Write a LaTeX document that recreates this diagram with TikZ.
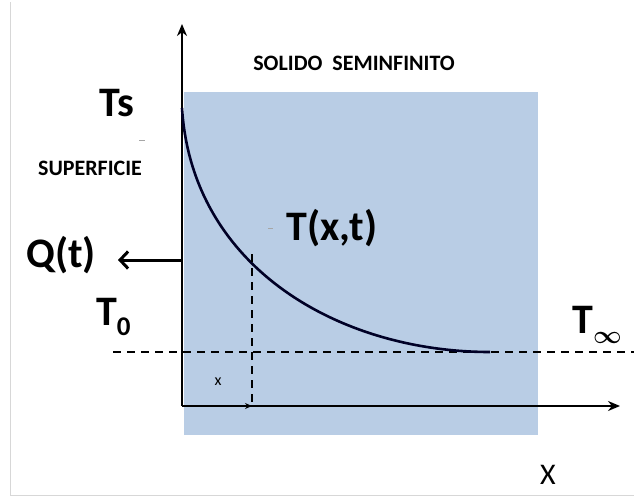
\documentclass[tikz,border=0pt]{standalone}
\usepackage{fontspec}
\setmainfont{Carlito}
\usepackage{xcolor}
\definecolor{solidBlue}{RGB}{185, 205, 229}
\definecolor{frameGray}{RGB}{215, 215, 215}
\usetikzlibrary{arrows.meta, positioning, calc}

\newcommand{\lowsub}[1]{\raisebox{-10pt}{\fontsize{27}{30}\selectfont #1}}

\begin{document}
\begin{tikzpicture}[x=1pt, y=-1pt,
  axis/.style={line width=2.6pt, -{Stealth[length=12pt, width=10pt]}},
  guide/.style={line width=1.4pt, dash pattern=on 8pt off 6pt},
  big/.style={font=\fontsize{42}{48}\selectfont\bfseries, inner sep=0pt},
  caps/.style={font=\fontsize{22}{26}\selectfont\bfseries, inner sep=0pt},
  tick/.style={line width=1pt, gray!70}]

  \useasboundingbox (0,0) rectangle (634,498);

  % ── Frame of the scan ────────────────────────────────────────────
  \draw[frameGray, line width=0.8pt] (10,2) -- (10,495) -- (634,495);

  % ── Semi-infinite solid ──────────────────────────────────────────
  \fill[solidBlue] (184,92) rectangle (538,435);

  % ── Axes ─────────────────────────────────────────────────────────
  \coordinate (O)    at (182,406);
  \coordinate (ytip) at (182,24);
  \coordinate (xtip) at (620,406);
  \draw[axis] (O) -- (ytip);
  \draw[axis] (O) -- (xtip);

  % ── Reference temperature T0 / Tinf ──────────────────────────────
  \coordinate (dashL) at (113,352);
  \coordinate (dashR) at (634,352);
  \draw[guide] (dashL) -- (dashR);

  % ── Temperature profile ──────────────────────────────────────────
  \coordinate (surf) at (182,108);
  \coordinate (flat) at (490,352);
  \draw[line width=2.6pt, black!85!blue] (surf) .. controls (192,268) and (340,352) .. (flat);

  % ── Position x ───────────────────────────────────────────────────
  \coordinate (xpt)  at (252,254);
  \coordinate (xax)  at (252,406);
  \draw[guide, line width=1.2pt] (xpt) -- (xax);
  \draw[line width=1.2pt, -{Stealth[length=7pt, width=6pt]}] (O) -- (xax);

  % ── Heat flux ────────────────────────────────────────────────────
  \coordinate (qfrom) at (182,260);
  \coordinate (qtip)  at (118,260);
  \draw[line width=3pt, -{Straight Barb[length=8pt, width=17pt]}] (qfrom) -- (qtip);

  % ── Labels ───────────────────────────────────────────────────────
  \node[big] (ts)   at (117,103) {Ts};
  \draw[tick] (139,140) -- (145,140);
  \node[caps] (sup) at (90,168) {SUPERFICIE};
  \node[caps] (solid) at (354,63) {SOLIDO\ \ SEMINFINITO};
  \node[big] (Txt)  at (332,228) {T(x,t)};
  \draw[tick] (268,228) -- (273,228);
  \node[big] (Q)    at (61,255) {Q(t)};
  \node[big, anchor=base west] (T0)   at (96,325) {T\lowsub{0}};
  \node[big, anchor=base west] (Tinf) at (572,333) {T\lowsub{\boldmath$\infty$}};
  \node[font=\fontsize{16}{19}\selectfont, inner sep=0pt] (xlab) at (218,382) {x};
  \node[font=\fontsize{30}{34}\selectfont, inner sep=0pt] (X) at (548,475) {X};

\end{tikzpicture}
\end{document}
